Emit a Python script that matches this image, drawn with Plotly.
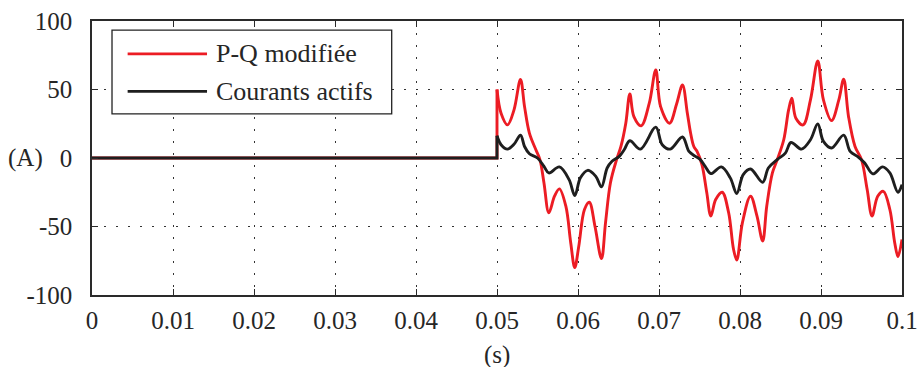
import plotly.graph_objects as go

# Time axis (s) and currents (A) after the compensator is switched on at t = 0.05 s
ONSET = 0.05

t_pq = [0.0500, 0.0505, 0.0513, 0.0521, 0.0529, 0.0534, 0.0540, 0.0548, 0.0553, 0.0558,
        0.0564, 0.0571, 0.0577, 0.0585, 0.0591, 0.0596, 0.0601, 0.0608, 0.0614, 0.0621,
        0.0629, 0.0634, 0.0640, 0.0647, 0.0653, 0.0659, 0.0664, 0.0669, 0.0678, 0.0688,
        0.0696, 0.0702, 0.0713, 0.0722, 0.0729, 0.0735, 0.0739, 0.0743, 0.0747, 0.0753,
        0.0759, 0.0764, 0.0770, 0.0778, 0.0786, 0.0792, 0.0796, 0.0803, 0.0813, 0.0821,
        0.0828, 0.0833, 0.0840, 0.0846, 0.0854, 0.0860, 0.0864, 0.0869, 0.0878, 0.0887,
        0.0896, 0.0903, 0.0913, 0.0922, 0.0928, 0.0934, 0.0942, 0.0950, 0.0957, 0.0963,
        0.0970, 0.0977, 0.0985, 0.0991, 0.0995, 0.1000]
i_pq = [50.0, 32.7, 24.2, 35.1, 57.4, 37.5, 18.2, 6.0, -1.2, -18.2,
        -40.0, -27.9, -22.5, -35.2, -61.8, -80.0, -64.2, -37.6, -32.3, -50.0,
        -73.4, -47.2, -18.2, -2.4, 8.4, 25.4, 46.7, 30.2, 23.5, 40.0,
        64.2, 37.5, 25.4, 40.0, 53.3, 32.7, 18.2, 8.4, 4.8, -4.9,
        -25.4, -42.4, -30.3, -25.0, -40.0, -66.6, -74.4, -47.2, -27.9, -42.4,
        -60.6, -35.2, -10.9, -1.2, 13.3, 35.1, 43.6, 29.0, 24.2, 42.4,
        70.9, 42.4, 27.3, 42.4, 57.6, 30.2, 8.4, -1.2, -23.0, -42.4,
        -27.9, -24.3, -37.6, -61.8, -72.0, -59.4]

t_act = [0.0500, 0.0505, 0.0513, 0.0521, 0.0529, 0.0534, 0.0540, 0.0550, 0.0558, 0.0564,
         0.0577, 0.0589, 0.0596, 0.0603, 0.0612, 0.0622, 0.0629, 0.0636, 0.0642, 0.0651,
         0.0657, 0.0664, 0.0677, 0.0696, 0.0704, 0.0714, 0.0729, 0.0737, 0.0745, 0.0751,
         0.0757, 0.0764, 0.0777, 0.0788, 0.0796, 0.0804, 0.0813, 0.0828, 0.0835, 0.0846,
         0.0856, 0.0863, 0.0876, 0.0887, 0.0896, 0.0903, 0.0913, 0.0928, 0.0936, 0.0946,
         0.0954, 0.0964, 0.0976, 0.0985, 0.0995, 0.1000]
i_act = [16.2, 9.7, 6.5, 10.0, 16.7, 8.4, 3.1, 0.0, -6.1, -10.9,
         -6.5, -15.8, -27.4, -14.5, -9.0, -13.4, -21.1, -7.3, -2.4, 1.2,
         6.0, 12.6, 6.5, 22.5, 9.7, 6.5, 15.3, 4.8, 1.2, -1.2,
         -6.1, -11.4, -6.5, -14.5, -25.9, -12.1, -8.0, -17.7, -7.3, -1.2,
         3.6, 11.3, 6.5, 13.3, 24.9, 12.1, 7.3, 16.7, 4.8, 0.7,
         -3.6, -11.6, -6.5, -10.9, -25.0, -19.4]

series_names = ["P-Q modifiée", "Courants actifs"]
series_colors = ["#ec1c24", "#1e1e1e"]

x_ticks = [0, 0.01, 0.02, 0.03, 0.04, 0.05, 0.06, 0.07, 0.08, 0.09, 0.1]
x_tick_text = ["0", "0.01", "0.02", "0.03", "0.04", "0.05", "0.06", "0.07", "0.08", "0.09", "0.1"]
y_ticks = [-100, -50, 0, 50, 100]
y_tick_text = ["-100", "-50", "0", "50", "100"]

FONT = "Times New Roman, Liberation Serif, serif"
TEXT_COLOR = "#262626"
LINE_W = 2.9
fig = go.Figure()

for name, color, t, i in [(series_names[0], series_colors[0], t_pq, i_pq),
                          (series_names[1], series_colors[1], t_act, i_act)]:
    # zero current before the onset, then the step at t = ONSET
    fig.add_trace(go.Scatter(x=[0, ONSET, t[0]], y=[0, 0, i[0]], mode="lines",
                             line=dict(color=color, width=LINE_W), showlegend=False,
                             hoverinfo="skip"))
    fig.add_trace(go.Scatter(x=t, y=i, mode="lines", name=name,
                             line=dict(color=color, width=LINE_W, shape="spline", smoothing=1.0),
                             showlegend=False))

axis_common = dict(showline=True, linecolor="#2a2a2a", linewidth=1.5, mirror="ticks",
                   ticks="inside", ticklen=6, tickcolor="#2a2a2a", tickwidth=1,
                   showgrid=True, gridcolor="#333333", gridwidth=1.2, griddash="2px,10px",
                   zeroline=False, automargin=False,
                   tickfont=dict(family=FONT, size=25, color=TEXT_COLOR))

fig.update_xaxes(range=[0, 0.1], tickvals=x_ticks, ticktext=x_tick_text,
                 ticklabelstandoff=2, **axis_common)
fig.update_yaxes(range=[-100, 100], tickvals=y_ticks, ticktext=y_tick_text,
                 ticklabelstandoff=13, **axis_common)

# legend box drawn as shapes + text
shapes = [dict(type="rect", xref="paper", yref="paper", x0=0.0247, x1=0.370, y0=0.661, y1=0.967,
               line=dict(color="#222222", width=1.3), fillcolor="white", layer="above")]
annotations = []
for k, (name, color) in enumerate(zip(series_names, series_colors)):
    yk = 0.880 - k * 0.137
    shapes.append(dict(type="line", xref="paper", yref="paper", x0=0.044, x1=0.142, y0=yk, y1=yk,
                       line=dict(color=color, width=2.6), layer="above"))
    annotations.append(dict(xref="paper", yref="paper", x=0.150, y=yk, text=name, showarrow=False,
                            xanchor="left", yanchor="middle",
                            font=dict(family=FONT, size=26, color=TEXT_COLOR)))

annotations.append(dict(xref="paper", yref="paper", x=-0.0575, y=0.5, text="(A)", showarrow=False,
                        xanchor="right", yanchor="middle", font=dict(family=FONT, size=25, color=TEXT_COLOR)))
annotations.append(dict(xref="paper", yref="paper", x=0.5, y=-0.16, text="(s)", showarrow=False,
                        xanchor="center", yanchor="top", font=dict(family=FONT, size=25, color=TEXT_COLOR)))

fig.update_layout(width=918, height=367, margin=dict(l=92, r=16, t=21, b=72),
                  paper_bgcolor="white", plot_bgcolor="white", showlegend=False,
                  shapes=shapes, annotations=annotations)

fig.write_html("out.html")
